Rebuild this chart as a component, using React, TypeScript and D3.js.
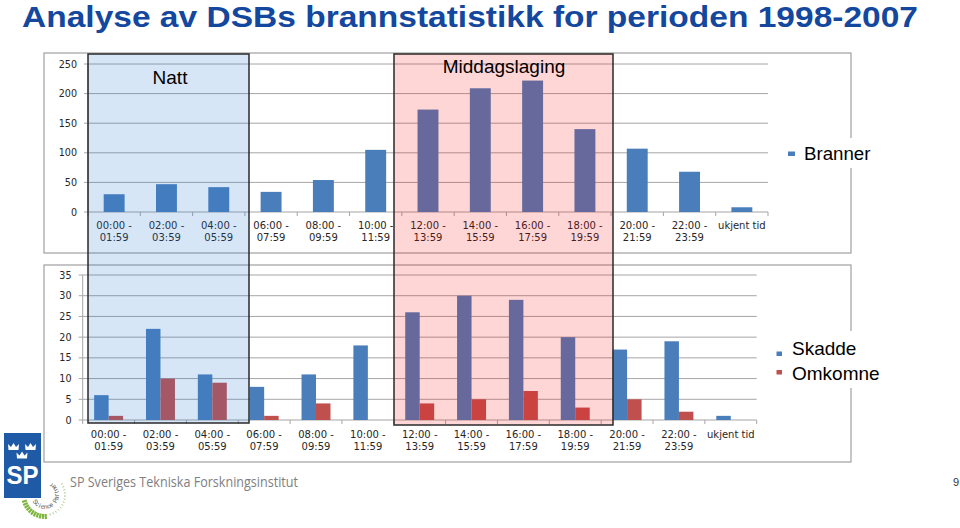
import React from "react";
import * as d3 from "d3";

const categories = [
  "00:00 - 01:59", "02:00 - 03:59", "04:00 - 05:59", "06:00 - 07:59",
  "08:00 - 09:59", "10:00 - 11:59", "12:00 - 13:59", "14:00 - 15:59",
  "16:00 - 17:59", "18:00 - 19:59", "20:00 - 21:59", "22:00 - 23:59", "ukjent tid",
];
const branner = [30, 47, 42, 34, 54, 105, 173, 209, 222, 140, 107, 68, 8];
const skadde = [6, 22, 11, 8, 11, 18, 26, 30, 29, 20, 17, 19, 1];
const omkomne = [1, 10, 9, 1, 4, 0, 4, 5, 7, 3, 5, 2, 0];
const topTicks = [0, 50, 100, 150, 200, 250];
const bottomTicks = [0, 5, 10, 15, 20, 25, 30, 35];
const seriesNames = ["Skadde", "Omkomne"];

const BLUE = "#4A7EBB";
const RED = "#C0504D";
const GRID = "#A6A6A6";
const FRAME = "#A0A0A0";
const LABEL_FONT = "'DejaVu Sans', Verdana, sans-serif";
const ARIAL = "'Liberation Sans', Arial, sans-serif";

function CatLabels({ x, y0 }: { x: d3.ScaleBand<string>; y0: number }) {
  return (
    <g fontFamily={LABEL_FONT} fontSize={10} fill="#262626" textAnchor="middle">
      {categories.map((c) => {
        const parts = c.split(" - ");
        const cx = (x(c) as number) + x.bandwidth() / 2;
        return (
          <text key={c} x={cx} y={y0}>
            <tspan x={cx}>{parts.length > 1 ? parts[0] + " -" : parts[0]}</tspan>
            {parts.length > 1 && (
              <tspan x={cx} dy={12}>
                {parts[1]}
              </tspan>
            )}
          </text>
        );
      })}
    </g>
  );
}

function Axes({
  x, y, ticks, labelX,
}: {
  x: d3.ScaleBand<string>;
  y: d3.ScaleLinear<number, number>;
  ticks: number[];
  labelX: number;
}) {
  const [r0, r1] = x.range();
  const y0 = y(0);
  const yTop = y(ticks[ticks.length - 1]);
  return (
    <g>
      {ticks.slice(1).map((t) => (
        <line key={t} x1={r0} x2={r1} y1={y(t)} y2={y(t)} stroke={GRID} strokeWidth={1} />
      ))}
      <line x1={r0} x2={r0} y1={yTop} y2={y0} stroke={GRID} />
      {ticks.map((t) => (
        <line key={"t" + t} x1={r0 - 4} x2={r0} y1={y(t)} y2={y(t)} stroke={GRID} />
      ))}
      <line x1={r0} x2={r1} y1={y0} y2={y0} stroke={GRID} strokeWidth={1.2} />
      {categories.map((c) => (
        <line key={"x" + c} x1={x(c) as number} x2={x(c) as number} y1={y0} y2={y0 + 4} stroke={GRID} />
      ))}
      <line x1={r1} x2={r1} y1={y0} y2={y0 + 4} stroke={GRID} />
      <g fontFamily={LABEL_FONT} fontSize={9.6} fill="#262626" textAnchor="end">
        {ticks.map((t) => (
          <text key={"l" + t} x={labelX} y={y(t) + 3.5}>
            {t}
          </text>
        ))}
      </g>
    </g>
  );
}

export default function App() {
  const xTop = d3.scaleBand<string>().domain(categories).range([88, 768]);
  const yTop = d3.scaleLinear().domain([0, 250]).range([212, 64]);
  const xBot = d3.scaleBand<string>().domain(categories).range([82.7, 756.7]);
  const yBot = d3.scaleLinear().domain([0, 35]).range([420, 275]);
  const xSub = d3
    .scaleBand<string>()
    .domain(seriesNames)
    .range([0, xBot.bandwidth()])
    .paddingInner(0)
    .paddingOuter(0.79);
  const topBarW = xTop.bandwidth() * 0.4;

  const crown = (cx: number, cy: number) =>
    `M${cx - 5},${cy + 3} L${cx - 5.5},${cy - 3} L${cx - 2.5},${cy} L${cx},${cy - 4} L${cx + 2.5},${cy} L${cx + 5.5},${cy - 3} L${cx + 5},${cy + 3} Z`;

  const cx0 = 45;
  const cy0 = 495;
  const pt = (deg: number, r: number) => [
    cx0 + r * Math.cos((deg * Math.PI) / 180),
    cy0 + r * Math.sin((deg * Math.PI) / 180),
  ];
  const sciLetters = "Science Partner".split("");
  const greenDashes = d3.range(0, 11).map((i) => 88 + i * 7.5);
  const grayDots = d3.range(0, 13).map((i) => 75 - i * 9);

  return (
    <svg
      width={960}
      height={528}
      style={{ position: "absolute", left: 0, top: 0, background: "#fff" }}
    >
      <rect x={0} y={0} width={960} height={528} fill="#fff" />
      <text
        x={22}
        y={26.5}
        fontFamily="'Liberation Sans', Arial, sans-serif"
        fontWeight={700}
        fontSize={29}
        fill="#14479E"
        textLength={896}
        lengthAdjust="spacingAndGlyphs"
      >
        Analyse av DSBs brannstatistikk for perioden 1998-2007
      </text>

      <rect x={44} y={53} width={807} height={200} fill="#fff" stroke={FRAME} strokeWidth={1.2} />
      <rect x={44} y={265} width={807} height={197} fill="#fff" stroke={FRAME} strokeWidth={1.2} />

      <Axes x={xTop} y={yTop} ticks={topTicks} labelX={77} />
      <g>
        {categories.map((c, i) => (
          <rect
            key={c}
            x={(xTop(c) as number) + (xTop.bandwidth() - topBarW) / 2}
            y={yTop(branner[i])}
            width={topBarW}
            height={yTop(0) - yTop(branner[i])}
            fill={BLUE}
          />
        ))}
      </g>
      <CatLabels x={xTop} y0={229} />

      <Axes x={xBot} y={yBot} ticks={bottomTicks} labelX={71.5} />
      <g>
        {categories.map((c, i) => (
          <g key={c} transform={`translate(${xBot(c)},0)`}>
            <rect
              x={xSub("Skadde")}
              y={yBot(skadde[i])}
              width={xSub.bandwidth()}
              height={yBot(0) - yBot(skadde[i])}
              fill={BLUE}
            />
            <rect
              x={xSub("Omkomne")}
              y={yBot(omkomne[i])}
              width={xSub.bandwidth()}
              height={yBot(0) - yBot(omkomne[i])}
              fill={RED}
            />
          </g>
        ))}
      </g>
      <CatLabels x={xBot} y0={438} />

      <rect x={88} y={54} width={161} height={369} fill="rgba(40,120,210,0.19)" stroke="#2a2a2a" strokeWidth={1.5} />
      <rect x={394} y={54} width={219} height={371} fill="rgba(255,0,0,0.16)" stroke="#2a2a2a" strokeWidth={1.5} />
      <text x={170} y={83.5} fontFamily={ARIAL} fontSize={19} fill="#000" textAnchor="middle">
        Natt
      </text>
      <text x={504} y={72.5} fontFamily={ARIAL} fontSize={19} fill="#000" textAnchor="middle">
        Middagslaging
      </text>

      <rect x={800} y={138} width={72} height={30} fill="#fff" />
      <rect x={788} y={151.5} width={7} height={4.5} fill={BLUE} />
      <text x={804} y={159.5} fontFamily={ARIAL} fontSize={18.7} fill="#000">
        Branner
      </text>

      <rect x={788} y={331} width={100} height={57} fill="#fff" />
      <rect x={776.5} y={351.5} width={5.5} height={4.5} fill={BLUE} />
      <rect x={776.5} y={370} width={5.5} height={4.5} fill={RED} />
      <text x={792} y={355} fontFamily={ARIAL} fontSize={19} fill="#000">
        Skadde
      </text>
      <text x={792} y={380} fontFamily={ARIAL} fontSize={19} fill="#000">
        Omkomne
      </text>

      {/* SP logo */}
      <rect x={4} y={433} width={37} height={65} fill="#1F5AA6" />
      <path d={crown(13.5, 447)} fill="#fff" />
      <path d={crown(30.5, 447)} fill="#fff" />
      <path d={crown(22, 455.5)} fill="#fff" />
      <text
        x={22.5}
        y={484}
        fontFamily="'Liberation Sans', Arial, sans-serif"
        fontWeight={700}
        fontSize={26}
        fill="#fff"
        textAnchor="middle"
        textLength={32}
        lengthAdjust="spacingAndGlyphs"
      >
        SP
      </text>
      <g>
        {greenDashes.map((a, i) => {
          const [x1, y1] = pt(a, 19);
          const [x2, y2] = pt(a, 24);
          return <line key={i} x1={x1} y1={y1} x2={x2} y2={y2} stroke="#7DB53B" strokeWidth={2.2} />;
        })}
        {grayDots.map((a, i) => {
          const [x1, y1] = pt(a, 19);
          const [x2, y2] = pt(a, 21);
          return <line key={"g" + i} x1={x1} y1={y1} x2={x2} y2={y2} stroke="#A9C98A" strokeWidth={1} />;
        })}
      </g>
      <g fontFamily={ARIAL} fontSize={6.5} fill="#555" textAnchor="middle">
        {sciLetters.map((ch, i) => {
          const a = 145 - i * 14.5;
          const [lx, ly] = pt(a, 14);
          return (
            <text key={i} x={lx} y={ly} transform={`rotate(${a - 90} ${lx} ${ly})`}>
              {ch}
            </text>
          );
        })}
      </g>
      <text
        x={70}
        y={487}
        fontFamily="'Open Sans', sans-serif"
        fontSize={14}
        fill="#808080"
        textLength={228}
        lengthAdjust="spacingAndGlyphs"
      >
        SP Sveriges Tekniska Forskningsinstitut
      </text>

      <text x={956} y={486} fontFamily={ARIAL} fontSize={11} fill="#333" textAnchor="middle">
        9
      </text>
    </svg>
  );
}
